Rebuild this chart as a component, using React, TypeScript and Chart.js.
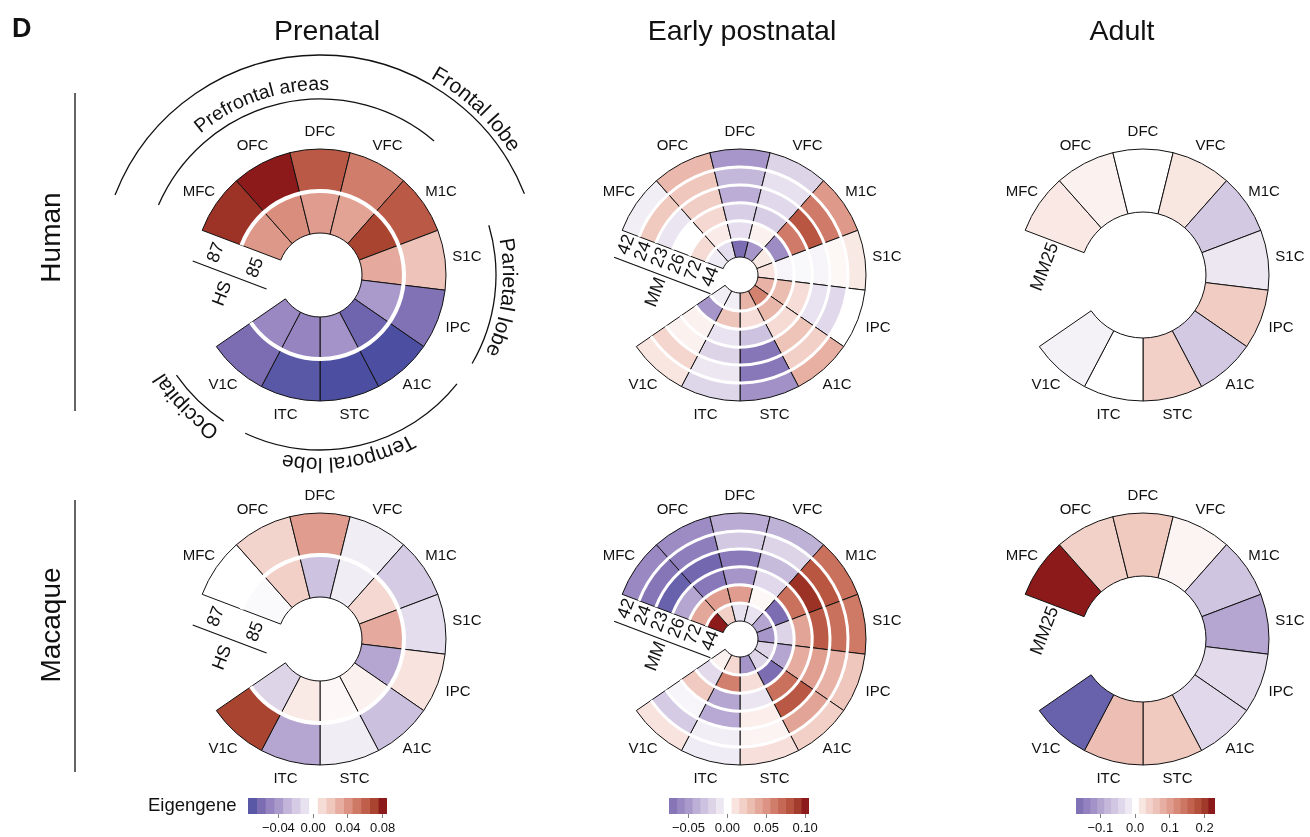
import React, { useEffect, useRef } from 'react';
import { Chart, registerables } from 'chart.js';

Chart.register(...registerables);

const FONT = '"Liberation Sans", Arial, Helvetica, sans-serif';

// Cortical regions, clockwise from the open sector
const regions = ['MFC', 'OFC', 'DFC', 'VFC', 'M1C', 'S1C', 'IPC', 'A1C', 'STC', 'ITC', 'V1C'];
const gapSlots = 2; // width of the open sector, in region widths

// Ring (sample) labels, outer ring first
const prenatalRings = ['87', '85'];
const earlyRings = ['42', '24', '23', '26', '72', '44'];
const adultRingsHuman = ['MM25'];
const adultRingsMacaque = ['MM25'];

// Human, prenatal eigengene values (per region, order as `regions`)
const humanPrenatal87 = [0.074, 0.08, 0.062, 0.048, 0.062, 0.021, -0.058, -0.075, -0.075, -0.07, -0.06];
const humanPrenatal85 = [0.038, 0.042, 0.036, 0.034, 0.07, 0.031, -0.04, -0.064, -0.043, -0.05, -0.048];

// Human, early postnatal
const humanEarly42 = [-0.007, 0.032, -0.052, -0.02, 0.047, 0.008, 0.0, 0.036, -0.055, -0.019, 0.009];
const humanEarly24 = [0.024, 0.025, -0.036, -0.013, 0.061, 0.003, -0.017, 0.02, -0.069, -0.01, 0.016];
const humanEarly23 = [-0.011, 0.021, -0.041, -0.017, 0.079, -0.004, -0.012, 0.027, -0.07, -0.02, 0.005];
const humanEarly26 = [0.0, 0.015, -0.023, -0.024, 0.061, -0.003, 0.012, 0.013, -0.03, -0.012, 0.005];
const humanEarly72 = [0.013, 0.007, -0.014, 0.005, -0.058, -0.004, 0.03, 0.033, 0.012, 0.026, -0.053];
const humanEarly44 = [-0.008, -0.015, -0.075, -0.052, 0.008, 0.01, 0.035, 0.058, 0.034, -0.007, -0.007];

// Human, adult
const humanAdultMM25 = [0.018, 0.011, 0.0, 0.02, -0.057, -0.022, 0.048, -0.057, 0.044, 0.0, -0.013];

// Macaque, prenatal
const macaquePrenatal87 = [0.0, 0.014, 0.036, -0.006, -0.02, -0.012, 0.008, -0.025, -0.006, -0.036, 0.07];
const macaquePrenatal85 = [-0.002, 0.016, -0.024, -0.006, 0.012, 0.031, -0.036, 0.004, 0.002, 0.006, -0.016];

// Macaque, early postnatal
const macaqueEarly42 = [-0.06, -0.058, -0.042, -0.039, 0.066, 0.062, 0.025, 0.02, 0.011, -0.008, 0.01];
const macaqueEarly24 = [-0.07, -0.066, -0.026, -0.02, 0.079, 0.066, 0.035, 0.042, 0.004, -0.007, -0.025];
const macaqueEarly23 = [-0.082, -0.078, -0.068, -0.034, 0.093, 0.077, 0.044, 0.078, 0.006, -0.043, -0.004];
const macaqueEarly26 = [-0.045, -0.069, -0.053, -0.017, 0.066, 0.042, 0.038, 0.066, -0.011, -0.045, 0.023];
const macaqueEarly72 = [0.04, 0.045, 0.045, 0.003, -0.075, -0.02, -0.045, -0.075, 0.012, 0.059, -0.016];
const macaqueEarly44 = [0.1, 0.02, -0.013, -0.012, -0.045, -0.052, -0.02, -0.02, -0.053, 0.015, 0.005];

// Macaque, adult
const macaqueAdultMM25 = [0.22, 0.042, 0.053, 0.009, -0.062, -0.099, -0.035, -0.037, 0.053, 0.064, -0.18];

// Colour-key bins (bin centres) and tick labels for each developmental period
const prenatalBins = [-0.07, -0.06, -0.05, -0.04, -0.03, -0.02, -0.01, 0, 0.01, 0.02, 0.03, 0.04, 0.05, 0.06, 0.07, 0.08];
const prenatalTickValues = [-0.04, 0, 0.04, 0.08];
const prenatalTickLabels = ['\u22120.04', '0.00', '0.04', '0.08'];

const earlyBins = [-0.07, -0.06, -0.05, -0.04, -0.03, -0.02, -0.01, 0, 0.01, 0.02, 0.03, 0.04, 0.05, 0.06, 0.07, 0.08, 0.09, 0.1];
const earlyTickValues = [-0.05, 0, 0.05, 0.1];
const earlyTickLabels = ['\u22120.05', '0.00', '0.05', '0.10'];

const adultBins = [-0.16, -0.14, -0.12, -0.1, -0.08, -0.06, -0.04, -0.02, 0, 0.02, 0.04, 0.06, 0.08, 0.1, 0.12, 0.14, 0.16, 0.18, 0.2, 0.22];
const adultTickValues = [-0.1, 0, 0.1, 0.2];
const adultTickLabels = ['\u22120.1', '0.0', '0.1', '0.2'];

// Diverging palette: purple (negative) – white – dark red (positive)
const redRamp = ['#ffffff', '#f6dcd6', '#efc7bd', '#e6ada0', '#dc9383', '#ce7866', '#bf5e4b', '#a84430', '#8c1a1a'];
const purpleRamp = ['#ffffff', '#e8e1ef', '#d5cbe4', '#c2b5d9', '#aa9acb', '#9584c0', '#7c6db3', '#5858a6', '#3e449c'];

function hexToRgb(h: string) {
  return [parseInt(h.slice(1, 3), 16), parseInt(h.slice(3, 5), 16), parseInt(h.slice(5, 7), 16)];
}

function eigenColor(t: number) {
  const c = Math.max(-1, Math.min(1, t));
  const ramp = c >= 0 ? redRamp : purpleRamp;
  const p = Math.abs(c) * (ramp.length - 1);
  const i = Math.min(Math.floor(p), ramp.length - 2);
  const f = p - i;
  const a = hexToRgb(ramp[i]);
  const b = hexToRgb(ramp[i + 1]);
  const m = a.map((v, k) => Math.round(v + (b[k] - v) * f));
  return `rgb(${m[0]},${m[1]},${m[2]})`;
}

type RingSpec = {
  key: string;
  cx: number;
  cy: number;
  w: number;
  h: number;
  rings: number[][];
  ringLabels: string[];
  vmax: number;
  cutout: string;
  sep: number;
  labelEnd: number;
  species?: string;
  ruleV?: number;
  speciesV?: number;
};

const ROW1 = 275;
const ROW2 = 639;
const COL = [320, 740, 1143];

const ringSpecs: RingSpec[] = [
  {
    key: 'hp', cx: COL[0], cy: ROW1, w: 360, h: 360,
    rings: [humanPrenatal87, humanPrenatal85], ringLabels: prenatalRings,
    vmax: 0.08, cutout: '33.3333%', sep: 4, labelEnd: 6, species: 'HS', ruleV: 32, speciesV: 52,
  },
  {
    key: 'he', cx: COL[1], cy: ROW1, w: 360, h: 360,
    rings: [humanEarly42, humanEarly24, humanEarly23, humanEarly26, humanEarly72, humanEarly44], ringLabels: earlyRings,
    vmax: 0.1, cutout: '14.2857%', sep: 3, labelEnd: 2, species: 'MM', ruleV: 28, speciesV: 46,
  },
  {
    key: 'ha', cx: COL[2], cy: ROW1, w: 330, h: 360,
    rings: [humanAdultMM25], ringLabels: adultRingsHuman,
    vmax: 0.22, cutout: '50%', sep: 3, labelEnd: 2,
  },
  {
    key: 'mp', cx: COL[0], cy: ROW2, w: 360, h: 360,
    rings: [macaquePrenatal87, macaquePrenatal85], ringLabels: prenatalRings,
    vmax: 0.08, cutout: '33.3333%', sep: 4, labelEnd: 6, species: 'HS', ruleV: 32, speciesV: 52,
  },
  {
    key: 'me', cx: COL[1], cy: ROW2, w: 360, h: 360,
    rings: [macaqueEarly42, macaqueEarly24, macaqueEarly23, macaqueEarly26, macaqueEarly72, macaqueEarly44], ringLabels: earlyRings,
    vmax: 0.1, cutout: '14.2857%', sep: 3, labelEnd: 2, species: 'MM', ruleV: 28, speciesV: 46,
  },
  {
    key: 'ma', cx: COL[2], cy: ROW2, w: 330, h: 360,
    rings: [macaqueAdultMM25], ringLabels: adultRingsMacaque,
    vmax: 0.22, cutout: '50%', sep: 3, labelEnd: 2,
  },
];

// White ring separators, region names, sample labels and the species rule
const ringDecor = {
  id: 'ringDecor',
  afterDatasetsDraw(chart: any, _args: any, opts: any) {
    const metas = chart.getSortedVisibleDatasetMetas();
    const first = metas[0].data[0];
    const last = metas[0].data[regions.length - 1];
    const ctx = chart.ctx;
    ctx.save();
    ctx.strokeStyle = '#ffffff';
    ctx.lineWidth = opts.sep;
    for (let i = 1; i < metas.length; i++) {
      const r = metas[i].data[0].outerRadius;
      ctx.beginPath();
      ctx.arc(first.x, first.y, r, first.startAngle, last.endAngle);
      ctx.stroke();
    }
    ctx.restore();
  },
  afterDraw(chart: any, _args: any, opts: any) {
    const metas = chart.getSortedVisibleDatasetMetas();
    const outer = metas[0].data;
    const innerArc = metas[metas.length - 1].data[0];
    const { x, y } = outer[0];
    const R = outer[0].outerRadius;
    const r0 = innerArc.innerRadius;
    const ctx = chart.ctx;
    ctx.save();
    ctx.fillStyle = '#111111';
    ctx.font = `15px ${FONT}`;
    ctx.textAlign = 'center';
    ctx.textBaseline = 'middle';
    for (let i = 0; i < regions.length; i++) {
      const a = (outer[i].startAngle + outer[i].endAngle) / 2;
      const rr = R + 17 + 5 * Math.abs(Math.cos(a));
      ctx.fillText(regions[i], x + rr * Math.cos(a), y + rr * Math.sin(a));
    }

    // frame along the MFC edge: u outward, v across into the open sector
    const a0 = outer[0].startAngle;
    const ux = Math.cos(a0);
    const uy = Math.sin(a0);
    const vx = Math.sin(a0);
    const vy = -Math.cos(a0);
    const at = (u: number, v: number) => [x + u * ux + v * vx, y + u * uy + v * vy];
    const rot = a0 + Math.PI / 2;

    ctx.font = `18px ${FONT}`;
    metas.forEach((m: any, i: number) => {
      const arc = m.data[0];
      const u = (arc.outerRadius + arc.innerRadius) / 2;
      const [px, py] = at(u, opts.labelEnd);
      ctx.save();
      ctx.translate(px, py);
      ctx.rotate(rot);
      ctx.textAlign = 'right';
      ctx.textBaseline = 'middle';
      ctx.fillText(opts.ringLabels[i], 0, 0);
      ctx.restore();
    });

    if (opts.species) {
      const uA = r0 + 3;
      const uB = R - 2;
      const [x1, y1] = at(uA, opts.ruleV);
      const [x2, y2] = at(uB, opts.ruleV);
      ctx.strokeStyle = '#111111';
      ctx.lineWidth = 1.2;
      ctx.beginPath();
      ctx.moveTo(x1, y1);
      ctx.lineTo(x2, y2);
      ctx.stroke();
      const [sx, sy] = at((uA + uB) / 2, opts.speciesV);
      ctx.save();
      ctx.translate(sx, sy);
      ctx.rotate(rot);
      ctx.textAlign = 'center';
      ctx.textBaseline = 'middle';
      ctx.fillText(opts.species, 0, 0);
      ctx.restore();
    }
    ctx.restore();
  },
};

function RingChart({ spec }: { spec: RingSpec }) {
  const ref = useRef<HTMLCanvasElement>(null);
  useEffect(() => {
    const slot = 360 / (regions.length + gapSlots);
    const chart = new Chart(ref.current as HTMLCanvasElement, {
      type: 'doughnut',
      data: {
        labels: [...regions, ''],
        datasets: spec.rings.map((vals) => ({
          data: [...vals.map(() => 1), gapSlots],
          backgroundColor: [...vals.map((v) => eigenColor(v / spec.vmax)), 'rgba(0,0,0,0)'],
          borderColor: '#111111',
          borderWidth: [...vals.map(() => 1), 0],
          hoverOffset: 0,
        })),
      },
      options: {
        responsive: false,
        maintainAspectRatio: false,
        animation: false,
        events: [],
        radius: 126,
        cutout: spec.cutout,
        rotation: -(regions.indexOf('DFC') + 0.5) * slot,
        circumference: 360,
        layout: { padding: 0 },
        plugins: {
          legend: { display: false },
          tooltip: { enabled: false },
          ringDecor: {
            sep: spec.sep,
            ringLabels: spec.ringLabels,
            labelEnd: spec.labelEnd,
            species: spec.species,
            ruleV: spec.ruleV,
            speciesV: spec.speciesV,
          },
        },
      } as any,
      plugins: [ringDecor as any],
    });
    return () => chart.destroy();
  }, [spec]);
  return (
    <canvas
      ref={ref}
      width={spec.w}
      height={spec.h}
      style={{ position: 'absolute', left: spec.cx - spec.w / 2, top: spec.cy - spec.h / 2, width: spec.w, height: spec.h }}
    />
  );
}

type BarSpec = {
  key: string;
  left: number;
  width: number;
  bins: number[];
  step: number;
  vmax: number;
  tickValues: number[];
  tickLabels: string[];
};

const barSpecs: BarSpec[] = [
  { key: 'bp', left: 228, width: 179, bins: prenatalBins, step: 0.01, vmax: 0.08, tickValues: prenatalTickValues, tickLabels: prenatalTickLabels },
  { key: 'be', left: 649, width: 180, bins: earlyBins, step: 0.01, vmax: 0.1, tickValues: earlyTickValues, tickLabels: earlyTickLabels },
  { key: 'ba', left: 1056, width: 179, bins: adultBins, step: 0.02, vmax: 0.22, tickValues: adultTickValues, tickLabels: adultTickLabels },
];

function ColorKey({ spec }: { spec: BarSpec }) {
  const ref = useRef<HTMLCanvasElement>(null);
  useEffect(() => {
    const half = spec.step / 2;
    const chart = new Chart(ref.current as HTMLCanvasElement, {
      type: 'bar',
      data: {
        labels: [''],
        datasets: spec.bins.map((c) => ({
          data: [[c - half, c + half]],
          backgroundColor: eigenColor(c / spec.vmax),
          borderWidth: 0,
          barPercentage: 1,
          categoryPercentage: 1,
          grouped: false,
        })),
      } as any,
      options: {
        indexAxis: 'y',
        responsive: false,
        maintainAspectRatio: false,
        animation: false,
        events: [],
        layout: { padding: { left: 20, right: 20, top: 8, bottom: 0 } },
        plugins: { legend: { display: false }, tooltip: { enabled: false } },
        scales: {
          y: { display: false },
          x: {
            type: 'linear',
            position: 'bottom',
            min: spec.bins[0] - half,
            max: spec.bins[spec.bins.length - 1] + half,
            border: { display: false },
            grid: { drawOnChartArea: false, drawTicks: true, tickLength: 4, color: '#808080', lineWidth: 1 },
            ticks: {
              autoSkip: false,
              maxRotation: 0,
              minRotation: 0,
              padding: 3,
              color: '#111111',
              font: { family: FONT, size: 13 },
              callback: (_v: any, i: number) => spec.tickLabels[i],
            },
            afterBuildTicks: (scale: any) => {
              scale.ticks = spec.tickValues.map((value) => ({ value }));
            },
            afterFit: (scale: any) => {
              scale.height = 23;
            },
          },
        },
      } as any,
    });
    return () => chart.destroy();
  }, [spec]);
  return (
    <canvas
      ref={ref}
      width={spec.width}
      height={47}
      style={{ position: 'absolute', left: spec.left, top: 790, width: spec.width, height: 47 }}
    />
  );
}

// Lobe brackets around the human prenatal chart (angles clockwise from 12 o'clock)
const lobes = [
  { name: 'Prefrontal areas', r: 176, from: -66.6, to: 40.4, textR: 185, at: -18.7, size: 19.5 },
  { name: 'Frontal lobe', r: 220, from: -68.7, to: 68.3, textR: 226, at: 43.3, size: 21 },
  { name: 'Parietal lobe', r: 176, from: 73.6, to: 120.2, textR: 183, at: 97, size: 21 },
  { name: 'Temporal lobe', r: 175, from: 128.5, to: 205.3, textR: 183, at: 171, size: 21 },
  { name: 'Occipital', r: 175, from: 213.4, to: 235.1, textR: 184, at: 225.5, size: 21 },
];

function polar(cx: number, cy: number, r: number, deg: number) {
  const t = (deg * Math.PI) / 180;
  return [cx + r * Math.sin(t), cy - r * Math.cos(t)];
}

function arcPath(cx: number, cy: number, r: number, a: number, b: number) {
  const [x1, y1] = polar(cx, cy, r, a);
  const [x2, y2] = polar(cx, cy, r, b);
  const large = b - a > 180 ? 1 : 0;
  return `M ${x1} ${y1} A ${r} ${r} 0 ${large} 1 ${x2} ${y2}`;
}

const titles = [
  { text: 'Prenatal', x: 327 },
  { text: 'Early postnatal', x: 742 },
  { text: 'Adult', x: 1122 },
];

export default function App() {
  const cx = COL[0];
  const cy = ROW1;
  return (
    <div
      style={{
        position: 'absolute',
        left: 0,
        top: 0,
        width: 1310,
        height: 837,
        background: '#ffffff',
        overflow: 'hidden',
        fontFamily: FONT,
      }}
    >
      {ringSpecs.map((s) => (
        <RingChart key={s.key} spec={s} />
      ))}
      {barSpecs.map((s) => (
        <ColorKey key={s.key} spec={s} />
      ))}
      <svg
        width={1310}
        height={837}
        style={{ position: 'absolute', left: 0, top: 0, pointerEvents: 'none' }}
        fontFamily={FONT}
      >
        <text x={12} y={37} fontSize={27} fontWeight="bold" fill="#111">D</text>
        {titles.map((t) => (
          <text key={t.text} x={t.x} y={40} fontSize={28.5} textAnchor="middle" fill="#111">{t.text}</text>
        ))}
        <text transform="translate(60 237.5) rotate(-90)" fontSize={28} textAnchor="middle" fill="#111">Human</text>
        <text transform="translate(60 625) rotate(-90)" fontSize={28} textAnchor="middle" fill="#111">Macaque</text>
        <line x1={75} y1={93} x2={75} y2={411} stroke="#111" strokeWidth={1.3} />
        <line x1={75} y1={500} x2={75} y2={772} stroke="#111" strokeWidth={1.3} />
        <text x={148} y={811} fontSize={18.5} fill="#111">Eigengene</text>
        {lobes.map((l, i) => (
          <g key={l.name}>
            <path d={arcPath(cx, cy, l.r, l.from, l.to)} fill="none" stroke="#111" strokeWidth={1.3} />
            <path id={`lobe-${i}`} d={arcPath(cx, cy, l.textR, l.at - 85, l.at + 85)} fill="none" stroke="none" />
            <text fontSize={l.size} fill="#111" textAnchor="middle">
              <textPath href={`#lobe-${i}`} startOffset="50%">{l.name}</textPath>
            </text>
          </g>
        ))}
      </svg>
    </div>
  );
}
